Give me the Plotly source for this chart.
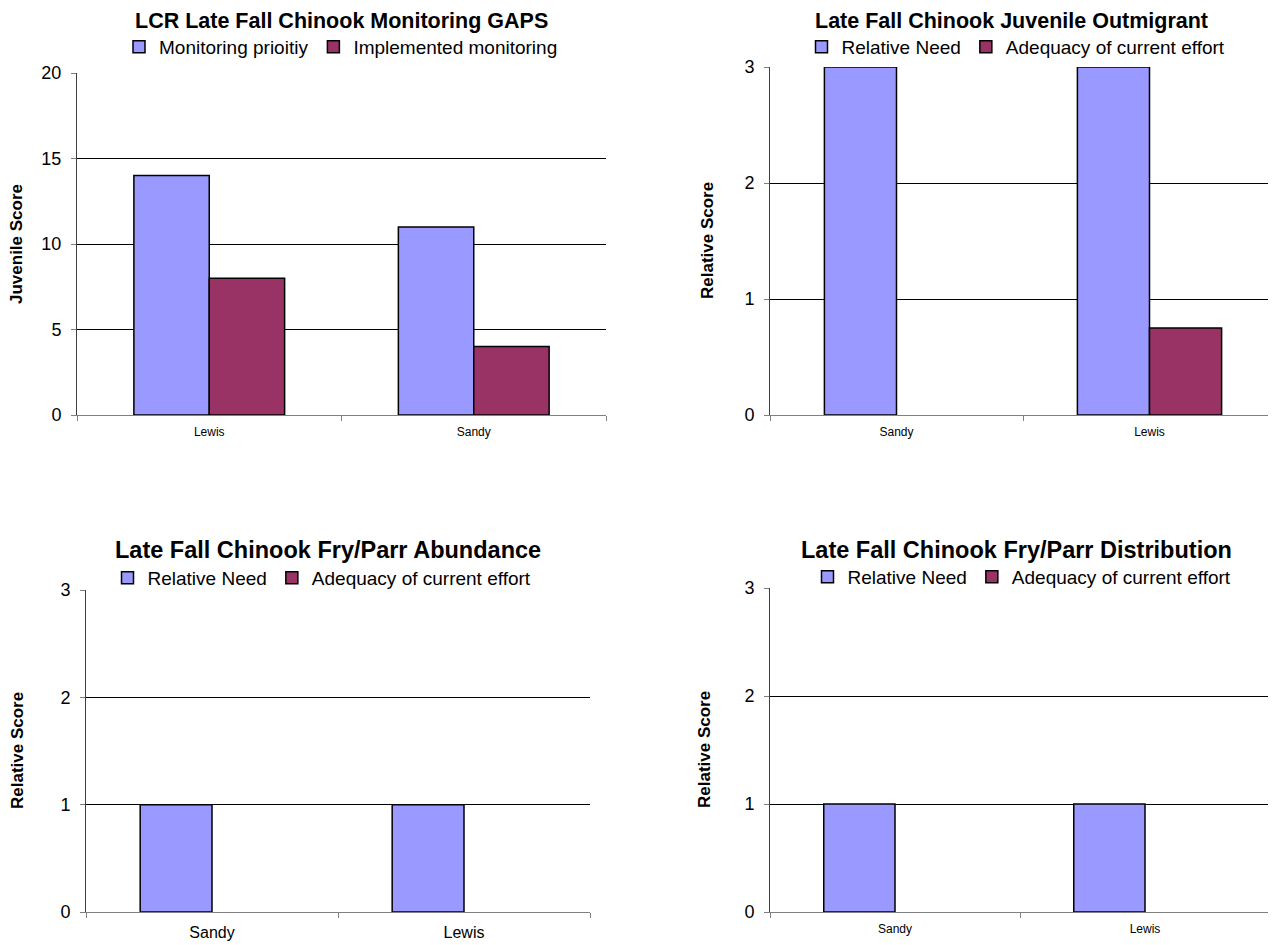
import plotly.graph_objects as go

# ---- data ----
p1_categories = ["Lewis", "Sandy"]
p1_priority = [14, 11]
p1_implemented = [8, 4]

p2_categories = ["Sandy", "Lewis"]
p2_need = [3, 3]
p2_adequacy = [0, 0.75]

p3_categories = ["Sandy", "Lewis"]
p3_need = [1, 1]
p3_adequacy = [0, 0]

p4_categories = ["Sandy", "Lewis"]
p4_need = [1, 1]
p4_adequacy = [0, 0]

titles = [
    "LCR Late Fall Chinook Monitoring GAPS",
    "Late Fall Chinook Juvenile Outmigrant",
    "Late Fall Chinook Fry/Parr Abundance",
    "Late Fall Chinook Fry/Parr Distribution",
]
ylabels = ["Juvenile Score", "Relative Score", "Relative Score", "Relative Score"]

BLUE = "#9999FF"
MAROON = "#993366"
FONT = "Liberation Sans, Arial, sans-serif"
W, H = 1276, 945
OFF = 8  # page body margin


def px_x(v):
    return (v - OFF) / W


def px_y(v):
    return 1 - (v - OFF) / H


fig = go.Figure()

panels = [
    dict(cats=p1_categories, a=p1_priority, b=p1_implemented,
         na="Monitoring prioitiy", nb="Implemented monitoring",
         x=(77, 606), y=(73, 415), rng=[0, 20], dt=5, xfs=12,
         title_x=341, title_y=None, tfs=21.5, leg_xy=(341, 47), ylab_x=17),
    dict(cats=p2_categories, a=p2_need, b=p2_adequacy,
         na="Relative Need", nb="Adequacy of current effort",
         x=(770, 1276), y=(67, 415), rng=[0, 3], dt=1, xfs=12,
         title_x=1011, title_y=None, tfs=21.5, leg_xy=(1016, 47), ylab_x=708),
    dict(cats=p3_categories, a=p3_need, b=p3_adequacy,
         na="Relative Need", nb="Adequacy of current effort",
         x=(86, 590), y=(590, 912), rng=[0, 3], dt=1, xfs=16,
         title_x=328, title_y=550, tfs=23.5, leg_xy=(322, 578), ylab_x=17),
    dict(cats=p4_categories, a=p4_need, b=p4_adequacy,
         na="Relative Need", nb="Adequacy of current effort",
         x=(770, 1270), y=(588, 912), rng=[0, 3], dt=1, xfs=12,
         title_x=1016, title_y=550, tfs=23.5, leg_xy=(1022, 577), ylab_x=704),
]

annotations = []
for i, p in enumerate(panels):
    n = i + 1
    sfx = "" if n == 1 else str(n)
    xa, ya = "x" + sfx, "y" + sfx
    leg = "legend" + sfx
    for vals, name, col, grp in ((p["a"], p["na"], BLUE, "a"), (p["b"], p["nb"], MAROON, "b")):
        # bars (zero-height bars get no outline)
        fig.add_trace(go.Bar(
            x=p["cats"], y=vals, name=name, xaxis=xa, yaxis=ya, legend=leg,
            offsetgroup=grp, showlegend=False,
            marker=dict(color=col, line=dict(color="black",
                                             width=[1.5 if v > 0 else 0 for v in vals])),
        ))
        # legend entry (no visible mark)
        fig.add_trace(go.Bar(
            x=p["cats"][:1], y=[None], name=name, xaxis=xa, yaxis=ya, legend=leg,
            offsetgroup=grp, showlegend=True, hoverinfo="skip",
            marker=dict(color=col, line=dict(color="black", width=1.5)),
        ))
    fig.update_layout(**{
        "xaxis" + sfx: dict(
            domain=[px_x(p["x"][0]), px_x(p["x"][1])], anchor=ya,
            type="category", showline=True, linecolor="#808080", linewidth=1,
            ticks="outside", tickson="boundaries", ticklen=5, tickcolor="#808080",
            ticklabelstandoff=6,
            tickfont=dict(family=FONT, size=p["xfs"], color="black"),
            showgrid=False, fixedrange=True, automargin=False,
        ),
        "yaxis" + sfx: dict(
            domain=[px_y(p["y"][1]), px_y(p["y"][0])], anchor=xa,
            range=p["rng"], dtick=p["dt"], showline=True, linecolor="#404040", linewidth=1,
            ticks="outside", ticklen=5, tickcolor="#808080", ticklabelstandoff=6,
            showgrid=True, gridcolor="black", gridwidth=1, zeroline=False,
            tickfont=dict(family=FONT, size=18, color="black"), automargin=False,
        ),
        leg: dict(
            orientation="h", x=px_x(p["leg_xy"][0]), y=px_y(p["leg_xy"][1]),
            xanchor="center", yanchor="middle", xref="paper", yref="paper",
            font=dict(family=FONT, size=19, color="black"),
            bgcolor="rgba(0,0,0,0)", itemclick=False, itemdoubleclick=False,
            tracegroupgap=0,
        ),
    })
    if p["title_y"] is None:
        ty, yanc = 1.0, "top"
    else:
        ty, yanc = px_y(p["title_y"]), "middle"
    annotations.append(dict(
        text="<b>" + titles[i] + "</b>", x=px_x(p["title_x"]), y=ty,
        xref="paper", yref="paper", xanchor="center", yanchor=yanc, showarrow=False,
        borderpad=0, font=dict(family=FONT, size=p["tfs"], color="black"),
    ))
    annotations.append(dict(
        text="<b>" + ylabels[i] + "</b>", x=px_x(p["ylab_x"]),
        y=px_y((p["y"][0] + p["y"][1]) / 2),
        xref="paper", yref="paper", xanchor="center", yanchor="middle", showarrow=False,
        textangle=-90, font=dict(family=FONT, size=17, color="black"),
    ))

fig.update_layout(
    width=W, height=H, margin=dict(l=0, r=0, t=0, b=0, autoexpand=False),
    paper_bgcolor="white", plot_bgcolor="white",
    barmode="group", bargap=0.43, bargroupgap=0,
    font=dict(family=FONT, color="black"),
    annotations=annotations,
)

fig.write_html("out.html")
